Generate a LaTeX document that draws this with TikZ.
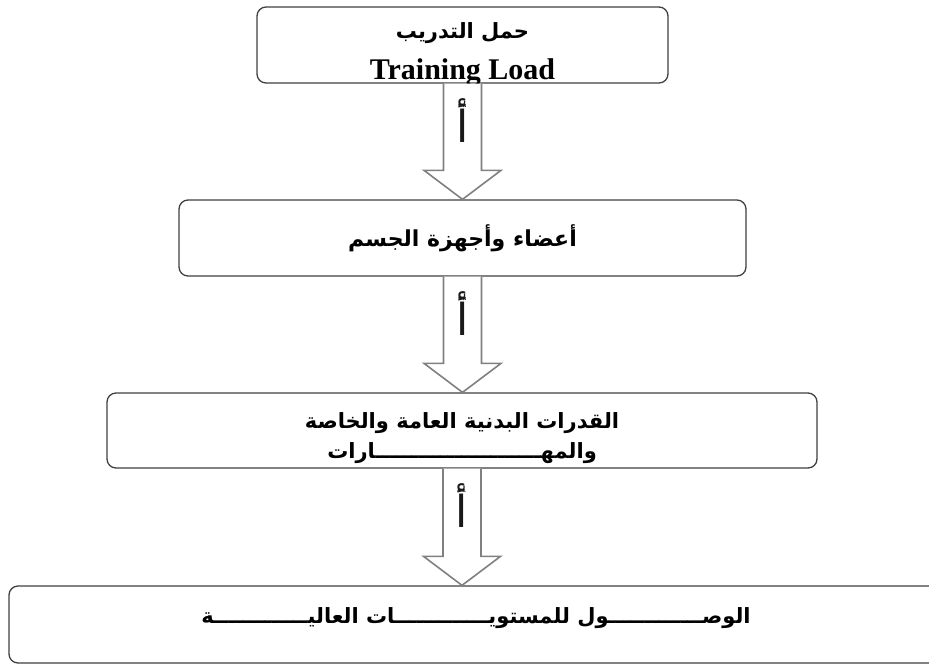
\documentclass[tikz,border=0pt]{standalone}
\usepackage{fontspec}
\setmainfont{Liberation Serif}
\newfontfamily\arabicfont[Script=Arabic]{DejaVu Sans}
\TeXXeTstate=1
\usetikzlibrary{calc}

\begin{document}
\begin{tikzpicture}[x=1pt, y=-1pt,
    block/.style={rectangle, draw=black!75, line width=1.3pt, rounded corners=9pt, align=center, inner sep=0pt, fill=white},
    hollow/.style={draw=black!50, line width=1.6pt, fill=white, line join=miter},
    sign/.style={text=black!90, inner sep=0pt, align=center, font=\arabicfont}]

    \useasboundingbox (0,0) rectangle (929,665);

    % Training load
    \node[block, minimum width=411pt, minimum height=76pt] (training) at (462.5,45)
        {\raisebox{-12pt}[0pt][0pt]{\begin{tabular}{@{}c@{}}
         \arabicfont\bfseries\fontsize{21}{24}\selectfont\beginR حمل التدريب\endR\\[17pt]
         \bfseries\fontsize{30}{30}\selectfont Training Load
         \end{tabular}}};

    % Body organs and systems
    \node[block, minimum width=567pt, minimum height=76pt] (organs) at (462.5,238)
        {\arabicfont\bfseries\fontsize{22}{24}\selectfont\beginR أعضاء وأجهزة الجسم\endR};

    % Abilities and skills
    \node[block, minimum width=710pt, minimum height=75pt] (abilities) at (462,430.5)
        {\raisebox{-10pt}[0pt][0pt]{\begin{tabular}{@{}c@{}}
         \arabicfont\bfseries\fontsize{21}{24}\selectfont\beginR القدرات البدنية العامة والخاصة\endR\\[10pt]
         \arabicfont\bfseries\fontsize{21}{24}\selectfont\beginR والمهـــــــــــــــــــــــارات\endR
         \end{tabular}}};

    % High levels
    \node[block, minimum width=934pt, minimum height=77pt] (levels) at (476,624.5)
        {\arabicfont\bfseries\fontsize{21}{34}\selectfont\beginR الوصـــــــــــــول للمستويـــــــــــــات العاليـــــــــــــة\endR\\ \strut};

    % Hollow arrows
    \draw[hollow] ($(training.south)+(-19,0)$) -- ($(training.south |- organs.north)+(-19,-29)$)
        -- ++(-19.5,0) -- (training.south |- organs.north) -- ++(38.5,-29) -- ++(-19.5,0) -- ($(training.south)+(19,0)$);
    \draw[hollow] ($(organs.south)+(-19,0)$) -- ($(organs.south |- abilities.north)+(-19,-29)$)
        -- ++(-19.5,0) -- (organs.south |- abilities.north) -- ++(38.5,-29) -- ++(-19.5,0) -- ($(organs.south)+(19,0)$);
    \draw[hollow] ($(abilities.south)+(-19,0)$) -- ($(abilities.south |- levels.north)+(-19,-29)$)
        -- ++(-19.5,0) -- (abilities.south |- levels.north) -- ++(38.5,-29) -- ++(-19.5,0) -- ($(abilities.south)+(19,0)$);

    % Signs on the arrows
    \node[sign] (sign1) at ($(training.south)+(0,38)$)
        {\fontsize{14}{14}\selectfont\beginR يـ\endR\\[-10pt]\fontsize{44}{44}\selectfont\beginR أ\endR};
    \node[sign] (sign2) at ($(organs.south)+(0,38)$)
        {\fontsize{14}{14}\selectfont\beginR يـ\endR\\[-10pt]\fontsize{44}{44}\selectfont\beginR أ\endR};
    \node[sign] (sign3) at ($(abilities.south)+(0,38)$)
        {\fontsize{14}{14}\selectfont\beginR يـ\endR\\[-10pt]\fontsize{44}{44}\selectfont\beginR أ\endR};
\end{tikzpicture}
\end{document}
